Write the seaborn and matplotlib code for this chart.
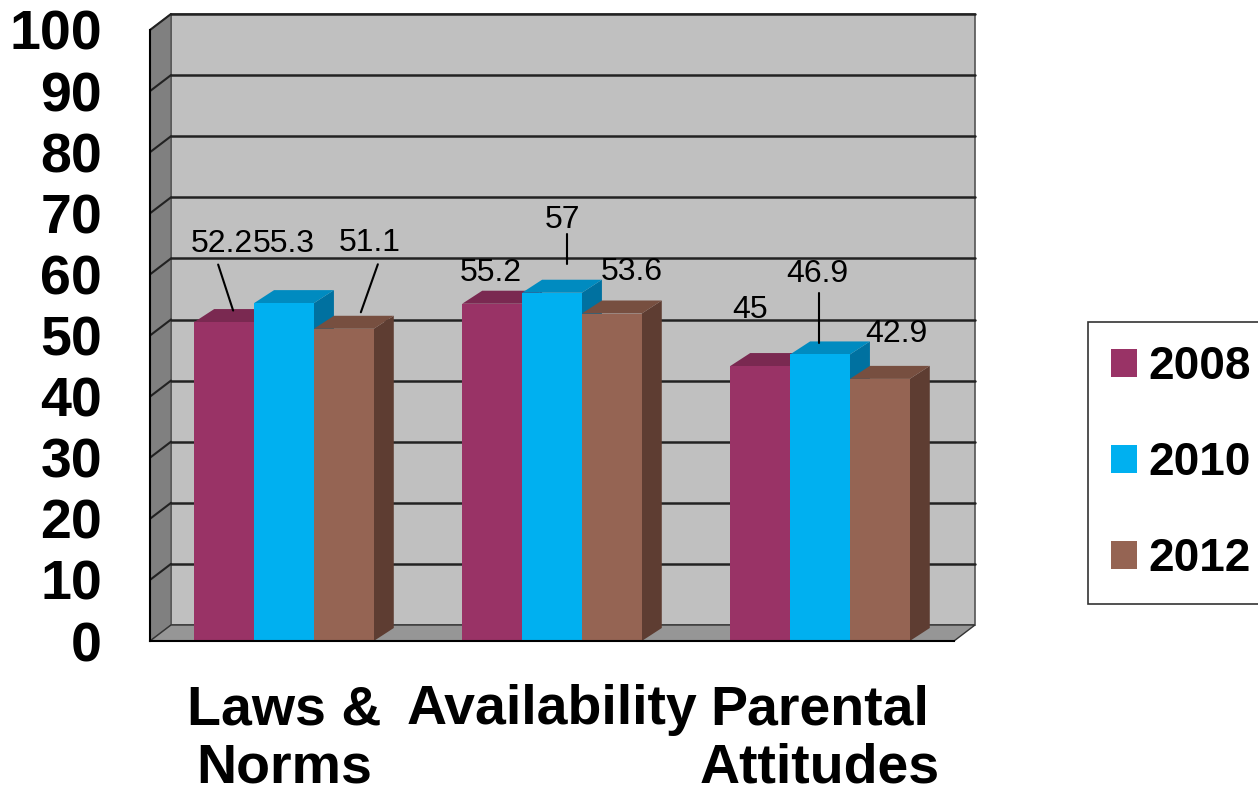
import matplotlib
matplotlib.use("Agg")
import matplotlib.pyplot as plt
import matplotlib.transforms as mtransforms
from matplotlib.patches import Polygon, Rectangle
from matplotlib.lines import Line2D
import seaborn as sns
import pandas as pd

categories = ["Laws &\nNorms", "Availability", "Parental\nAttitudes"]
years = ["2008", "2010", "2012"]
values_2008 = [52.2, 55.2, 45]
values_2010 = [55.3, 57, 46.9]
values_2012 = [51.1, 53.6, 42.9]
y_ticks = list(range(0, 101, 10))

front_colors = ["#993366", "#00B0F0", "#956453"]
top_colors = ["#7A2951", "#008BC0", "#774F40"]
side_colors = ["#6E2449", "#0071A0", "#5E3D32"]

# label offsets in pixels from the centre of each bar's top face, (x, up)
label_offsets = {
    (0, 0): (-12, 72), (0, 1): (-10, 53), (0, 2): (16, 79),
    (1, 0): (-11, 24), (1, 1): (0, 66), (1, 2): (10, 35),
    (2, 0): (-20, 50), (2, 1): (-13, 74), (2, 2): (7, 38),
}
# leader lines: start / end offsets from the top face centre
leaders = {
    (0, 0): ((-16, 51), (-1, 5)),
    (0, 2): ((24, 58), (7, 10)),
    (1, 1): ((5, 52), (5, 22)),
    (2, 1): ((-11, 55), (-11, 5)),
}

rows = []
for vals, yr in zip([values_2008, values_2010, values_2012], years):
    for cat, v in zip(categories, vals):
        rows.append({"category": cat, "year": yr, "value": v})
df = pd.DataFrame(rows)

sns.set_style("white")
plt.rcParams["font.family"] = ["Liberation Sans", "DejaVu Sans"]
plt.rcParams["text.color"] = "black"
plt.rcParams["xtick.color"] = "black"
plt.rcParams["ytick.color"] = "black"
plt.rcParams["axes.labelcolor"] = "black"

W, H = 1258, 793
fig = plt.figure(figsize=(W / 100, H / 100), dpi=100)
ax = fig.add_axes([150 / W, (H - 641) / H, 804 / W, 611 / H])
ax.patch.set_visible(False)

sns.barplot(data=df, x="category", y="value", hue="year", palette=front_colors,
            width=0.67, saturation=1, edgecolor="none", linewidth=0, ax=ax)
ax.set_xlim(-0.5, 2.5)
ax.set_ylim(0, 100)

handles, labels = ax.get_legend_handles_labels()
ax.get_legend().remove()

ident = mtransforms.IdentityTransform()
wdx, wdy = 21, 16  # wall depth in px
bdx, bdy = 20, 13  # bar depth in px
wall_trans = ax.transData + mtransforms.ScaledTranslation(wdx / 100, wdy / 100, fig.dpi_scale_trans)

def px(x, y):
    return ax.transData.transform((x, y))

# back wall
ax.add_patch(Rectangle((-0.5, 0), 3, 100, transform=wall_trans, facecolor="#C0C0C0",
                       edgecolor="#555555", lw=1.2, zorder=0.5, clip_on=False))
fl, ft = px(-0.5, 0), px(-0.5, 100)
fr = px(2.5, 0)
left_wall = [fl, ft, ft + (wdx, wdy), fl + (wdx, wdy)]
ax.add_patch(Polygon(left_wall, closed=True, transform=ident, facecolor="#808080",
                     edgecolor="#555555", lw=1.0, zorder=0.6, clip_on=False))
floor = [fl, fr, fr + (wdx, wdy), fl + (wdx, wdy)]
ax.add_patch(Polygon(floor, closed=True, transform=ident, facecolor="#969696",
                     edgecolor="#333333", lw=1.0, zorder=0.7, clip_on=False))

# grid lines on back wall and left wall
for v in y_ticks[1:]:
    ax.plot([-0.5, 2.5], [v, v], color="#222222", lw=1.8, transform=wall_trans,
            zorder=0.8, clip_on=False)
    p = px(-0.5, v)
    ax.add_line(Line2D([p[0], p[0] + wdx], [p[1], p[1] + wdy], color="#222222", lw=1.5,
                       transform=ident, zorder=0.8, clip_on=False))

# 3D faces on the bars
bars = sorted([b for b in ax.patches
               if isinstance(b, Rectangle) and b.get_height() > 0 and b.get_width() < 1],
              key=lambda b: b.get_x())
for i, bar in enumerate(bars):
    c, k = i // 3, i % 3
    x0, w, h = bar.get_x(), bar.get_width(), bar.get_height()
    bar.set_zorder(3 + 2 * i)
    bl, br, tl, tr = px(x0, 0), px(x0 + w, 0), px(x0, h), px(x0 + w, h)
    side = [br, tr, tr + (bdx, bdy), br + (bdx, bdy)]
    top = [tl, tr, tr + (bdx, bdy), tl + (bdx, bdy)]
    ax.add_patch(Polygon(side, closed=True, transform=ident, facecolor=side_colors[k],
                         edgecolor="none", zorder=2 + 2 * i, clip_on=False))
    ax.add_patch(Polygon(top, closed=True, transform=ident, facecolor=top_colors[k],
                         edgecolor="none", zorder=2 + 2 * i, clip_on=False))
    tc = px(x0 + w / 2, h) + (bdx / 2, bdy / 2)
    ox, oy = label_offsets[(c, k)]
    ax.text(tc[0] + ox, tc[1] + oy, f"{h:g}", transform=ident, ha="center", va="center",
            fontsize=23, color="black", zorder=40, clip_on=False)
    if (c, k) in leaders:
        (sx, sy), (ex, ey) = leaders[(c, k)]
        ax.add_line(Line2D([tc[0] + sx, tc[0] + ex], [tc[1] + sy, tc[1] + ey], color="black",
                           lw=1.5, transform=ident, zorder=40, clip_on=False))

# axes, ticks
for s in ["top", "right"]:
    ax.spines[s].set_visible(False)
for s in ["left", "bottom"]:
    ax.spines[s].set_color("black")
    ax.spines[s].set_linewidth(1.5)
    ax.spines[s].set_zorder(30)
ax.set_yticks(y_ticks)
ax.set_yticklabels([str(t) for t in y_ticks], fontsize=40, fontweight="bold", color="black")
ax.tick_params(axis="y", direction="out", length=10.5, width=1.3, color="black", pad=24)
ax.set_xticks([0, 1, 2])
ax.set_xticklabels(categories, fontsize=40, fontweight="bold", linespacing=1.15, color="black")
ax.set_xticks([-0.5, 0.5, 1.5, 2.5], minor=True)
ax.tick_params(axis="x", which="major", length=0, pad=31)
ax.tick_params(axis="x", which="minor", direction="out", length=13.5, width=1.3, color="black")
ax.set_xlabel("")
ax.set_ylabel("")

leg = fig.legend(handles, labels, loc="center left", bbox_to_anchor=(1088 / W, 1 - 463 / H),
                 prop={"size": 33, "weight": "bold"}, handlelength=0.56, handleheight=0.56,
                 handletextpad=0.26, labelspacing=1.14, borderpad=0.5, borderaxespad=0,
                 fancybox=False, frameon=True)
leg.get_frame().set_edgecolor("black")
leg.get_frame().set_linewidth(1.2)
for t in leg.get_texts():
    t.set_color("black")

fig.savefig("out.png", dpi=100, facecolor="white")
